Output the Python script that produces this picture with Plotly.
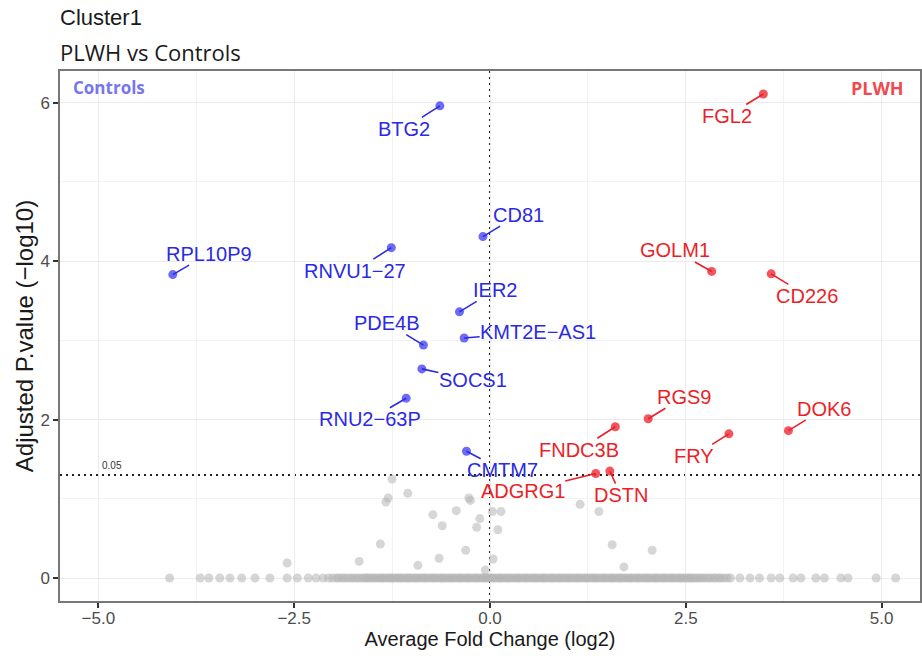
import math
import plotly.graph_objects as go

# ---- genes significant in PLWH (up) ----
up_genes = ["FGL2", "GOLM1", "CD226", "RGS9", "DOK6", "FRY", "FNDC3B", "ADGRG1", "DSTN"]
up_fc = [3.49, 2.83, 3.59, 2.02, 3.81, 3.05, 1.60, 1.35, 1.53]
up_p = [6.11, 3.87, 3.84, 2.01, 1.86, 1.82, 1.91, 1.32, 1.35]
# label offsets (px) used by the repelled labels
up_dx = [-36, -37, 36, 36, 36, -35, -36, -73, 11]
up_dy = [22, -21, 22, -22, -22, 22, 23, 18, 24]

# ---- genes significant in Controls (down) ----
down_genes = ["BTG2", "RPL10P9", "RNVU1\u221227", "CD81", "IER2", "KMT2E\u2212AS1",
              "PDE4B", "SOCS1", "RNU2\u221263P", "CMTM7"]
down_fc = [-0.64, -4.05, -1.26, -0.09, -0.39, -0.33, -0.85, -0.87, -1.07, -0.30]
down_p = [5.96, 3.83, 4.17, 4.31, 3.36, 3.03, 2.94, 2.64, 2.27, 1.60]
down_dx = [-36, 36, -36, 36, 36, 74, -36, 51, -36, 36]
down_dy = [23, -21, 23, -22, -22, -6, -22, 11, 21, 19]

# ---- non-significant genes with p > 0 ----
ns_fc = [-2.59, -1.67, -1.40, -1.33, -1.30, -1.25, -1.05, -0.92, -0.73, -0.65, -0.61,
         -0.43, -0.31, -0.27, -0.25, -0.17, -0.13, -0.06, 0.03, 0.14, 0.10, 0.04,
         1.15, 1.39, 1.56, 2.07, 1.71]
ns_p = [0.19, 0.21, 0.43, 0.96, 1.01, 1.25, 1.07, 0.16, 0.80, 0.25, 0.66,
        0.85, 0.35, 1.01, 0.98, 0.64, 0.75, 0.10, 0.84, 0.84, 0.61, 0.24,
        0.93, 0.84, 0.42, 0.35, 0.14]

# ---- non-significant genes with adjusted p of 1 (-log10 = 0) ----
zero_fc = [
    -4.09, -3.70, -3.59, -3.45, -3.32, -3.17, -3.00, -2.81, -2.59, -2.46, -2.32, -2.22,
    -2.13, -2.06, -2.01, -1.96, -1.93, -1.89, -1.86, -1.82, -1.78, -1.75, -1.71, -1.68,
    -1.64, -1.61, -1.58, -1.56, -1.53, -1.50, -1.48, -1.45, -1.42, -1.39, -1.37, -1.34,
    -1.31, -1.28, -1.26, -1.23, -1.20, -1.17, -1.15, -1.12, -1.09, -1.06, -1.04, -1.01,
    -0.98, -0.95, -0.93, -0.90, -0.87, -0.84, -0.82, -0.79, -0.76, -0.73, -0.71, -0.68,
    -0.65, -0.62, -0.60, -0.57, -0.54, -0.51, -0.49, -0.46, -0.43, -0.40, -0.38, -0.35,
    -0.32, -0.29, -0.27, -0.24, -0.21, -0.18, -0.16, -0.13, -0.10, -0.07, -0.05, -0.02,
    0.01, 0.03, 0.06, 0.09, 0.12, 0.14, 0.17, 0.20, 0.23, 0.25, 0.28, 0.31, 0.34, 0.36,
    0.39, 0.42, 0.45, 0.47, 0.50, 0.53, 0.56, 0.58, 0.61, 0.64, 0.67, 0.69, 0.72, 0.75,
    0.78, 0.80, 0.83, 0.86, 0.89, 0.91, 0.94, 0.97, 1.00, 1.02, 1.05, 1.08, 1.11, 1.13,
    1.16, 1.19, 1.22, 1.24, 1.27, 1.30, 1.33, 1.35, 1.38, 1.41, 1.44, 1.46, 1.49, 1.52,
    1.55, 1.57, 1.60, 1.63, 1.66, 1.68, 1.71, 1.74, 1.77, 1.79, 1.82, 1.85, 1.88, 1.90,
    1.93, 1.96, 1.99, 2.01, 2.04, 2.07, 2.10, 2.12, 2.15, 2.18, 2.21, 2.23, 2.26, 2.29,
    2.32, 2.34, 2.37, 2.40, 2.43, 2.45, 2.48, 2.51, 2.54, 2.56, 2.59, 2.62, 2.65, 2.68,
    2.71, 2.74, 2.78, 2.81, 2.85, 2.88, 2.92, 2.95, 2.99, 3.03, 3.07, 3.19, 3.32, 3.44,
    3.59, 3.70, 3.87, 3.97, 4.16, 4.27, 4.48, 4.57, 4.93, 5.18,
]
zero_p = [0.0] * len(zero_fc)

x_ticks = [-5.0, -2.5, 0.0, 2.5, 5.0]
x_tick_text = ["\u22125.0", "\u22122.5", "0.0", "2.5", "5.0"]
y_ticks = [0, 2, 4, 6]
p_cutoff = 0.05

BLUE_PT = "rgba(75,75,245,0.82)"
BLUE_TXT = "#2a2ae6"
RED_PT = "rgba(240,55,65,0.85)"
RED_TXT = "#ec1f28"
GREY_PT = "rgba(180,180,180,0.55)"
FONT = "Liberation Sans, Arial, sans-serif"

fig = go.Figure()
fig.add_trace(go.Scatter(x=zero_fc, y=zero_p, mode="markers",
                         marker=dict(size=9, color=GREY_PT, line=dict(width=0)),
                         hoverinfo="skip"))
fig.add_trace(go.Scatter(x=ns_fc, y=ns_p, mode="markers",
                         marker=dict(size=9, color=GREY_PT, line=dict(width=0)),
                         hoverinfo="skip"))
fig.add_trace(go.Scatter(x=down_fc, y=down_p, mode="markers", text=down_genes,
                         marker=dict(size=9, color=BLUE_PT, line=dict(width=0))))
fig.add_trace(go.Scatter(x=up_fc, y=up_p, mode="markers", text=up_genes,
                         marker=dict(size=9, color=RED_PT, line=dict(width=0))))

annotations = []
for names, xs, ys, dxs, dys, col in [
    (down_genes, down_fc, down_p, down_dx, down_dy, BLUE_TXT),
    (up_genes, up_fc, up_p, up_dx, up_dy, RED_TXT),
]:
    for n, xv, yv, dx, dy in zip(names, xs, ys, dxs, dys):
        annotations.append(dict(
            x=xv, y=yv, xref="x", yref="y", text=n, showarrow=True,
            ax=dx, ay=dy, arrowhead=0, arrowwidth=1.6, arrowcolor=col,
            standoff=0, borderpad=0,
            font=dict(family=FONT, size=20, color=col)))

thr = -math.log10(p_cutoff)
annotations += [
    dict(x=-4.82, y=thr, xref="x", yref="y", text=f"{p_cutoff}", showarrow=False,
         yshift=9, font=dict(family=FONT, size=10, color="#333333")),
    dict(x=0.013, y=0.968, xref="paper", yref="paper", text="<b>Controls</b>",
         showarrow=False, xanchor="left", yanchor="middle",
         font=dict(family="Open Sans", size=17, color="#7676ee")),
    dict(x=0.984, y=0.968, xref="paper", yref="paper", text="<b>PLWH</b>",
         showarrow=False, xanchor="right", yanchor="middle",
         font=dict(family="Open Sans", size=18, color="#ef4a4f")),
    dict(x=-0.002, y=1.1, xref="paper", yref="paper", text="Cluster1",
         showarrow=False, xanchor="left", yanchor="middle",
         font=dict(family=FONT, size=22, color="#1a1a1a")),
    dict(x=-0.002, y=1.036, xref="paper", yref="paper", text="PLWH vs Controls",
         showarrow=False, xanchor="left", yanchor="middle",
         font=dict(family="Open Sans", size=22, color="#1a1a1a")),
]

shapes = [
    dict(type="line", xref="x", yref="paper", x0=0, x1=0, y0=0, y1=1,
         line=dict(color="#222222", width=2, dash="2px,4px"), layer="below"),
    dict(type="line", xref="paper", yref="y", x0=0, x1=1, y0=thr, y1=thr,
         line=dict(color="#222222", width=2, dash="2px,4px"), layer="below"),
]

axis_common = dict(
    showline=True, linecolor="#777777", linewidth=1.5, mirror=True,
    ticks="outside", ticklen=5, tickwidth=1.5, tickcolor="#333333",
    showgrid=True, gridcolor="#ebebeb", gridwidth=1.3, zeroline=False,
    tickfont=dict(family=FONT, size=17, color="#4d4d4d"),
)

fig.update_layout(
    width=922, height=659,
    margin=dict(l=60, r=0, t=71, b=58),
    paper_bgcolor="white", plot_bgcolor="white",
    showlegend=False,
    annotations=annotations,
    shapes=shapes,
    xaxis=dict(range=[-5.49, 5.49], tickvals=x_ticks, ticktext=x_tick_text,
               ticklabelstandoff=-4,
               minor=dict(showgrid=True, gridcolor="#f2f2f2", gridwidth=0.8,
                          tickvals=[-3.75, -1.25, 1.25, 3.75]),
               title=dict(text="Average Fold Change (log2)", standoff=5,
                          font=dict(family=FONT, size=20, color="#1a1a1a")),
               **axis_common),
    yaxis=dict(range=[-0.29, 6.40], tickvals=y_ticks,
               minor=dict(showgrid=True, gridcolor="#f2f2f2", gridwidth=0.8,
                          tickvals=[1, 3, 5]),
               title=dict(text="Adjusted P.value (\u2212log10)", standoff=0,
                          font=dict(family=FONT, size=24, color="#1a1a1a")),
               **axis_common),
)

fig.write_html("out.html")
